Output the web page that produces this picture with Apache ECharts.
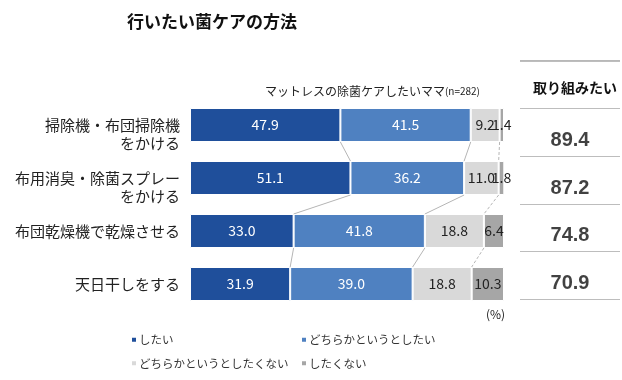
<!DOCTYPE html>
<html><head><meta charset="utf-8">
<script src="https://cdn.jsdelivr.net/npm/echarts@6/dist/echarts.min.js"></script>
<style>html,body{margin:0;padding:0;background:#fff}#c{width:622px;height:380px}</style>
</head><body><div id="c"></div>
<script>
const categories = ['掃除機・布団掃除機\nをかける', '布用消臭・除菌スプレー\nをかける', '布団乾燥機で乾燥させる', '天日干しをする'];
const seriesNames = ['したい', 'どちらかというとしたい', 'どちらかというとしたくない', 'したくない'];
const want = [47.9, 51.1, 33.0, 31.9];
const ratherWant = [41.5, 36.2, 41.8, 39.0];
const ratherNot = [9.2, 11.0, 18.8, 18.8];
const notWant = [1.4, 1.8, 6.4, 10.3];
const totals = [89.4, 87.2, 74.8, 70.9];
const colors = ['#1f4f9b', '#4f81c1', '#d9d9d9', '#a6a6a6'];
const values = [want, ratherWant, ratherNot, notWant];
const FONT = '"Noto Sans CJK JP", sans-serif';

const chart = echarts.init(document.getElementById('c'), null, {renderer: 'canvas'});

const barSeries = values.map((arr, si) => ({
  name: seriesNames[si], type: 'bar', stack: 'a', barWidth: 34,
  xAxisIndex: 0, yAxisIndex: 0,
  itemStyle: {color: colors[si], borderColor: '#fff', borderWidth: 1},
  label: {show: true, position: 'inside', color: si < 2 ? '#fff' : '#222', fontSize: 14, fontFamily: FONT,
    formatter: p => p.value.toFixed(1)},
  data: arr
}));

const connector = {
  type: 'custom', xAxisIndex: 0, yAxisIndex: 0, silent: true, z: 1,
  data: [0, 1, 2],
  renderItem: (params, api) => {
    const i = api.value(0);
    const half = 17;
    const children = [];
    let c1 = 0, c2 = 0;
    for (let k = 0; k < 3; k++) {
      c1 += values[k][i]; c2 += values[k][i + 1];
      const p1 = api.coord([c1, i]);
      const p2 = api.coord([c2, i + 1]);
      children.push({type: 'line', shape: {x1: p1[0], y1: p1[1] + half, x2: p2[0], y2: p2[1] - half},
        style: {stroke: '#b5b5b5', lineWidth: 1, lineDash: k === 2 ? [3, 2] : null}});
    }
    return {type: 'group', children};
  }
};

const totalSeries = {
  type: 'scatter', xAxisIndex: 1, yAxisIndex: 1, symbolSize: 0, silent: true,
  data: totals.map((v, i) => [0, i + 1, v]),
  label: {show: true, position: 'inside', offset: [0, 8], fontSize: 20, fontWeight: 'bold', color: '#111', fontFamily: 'Liberation Sans, Arial, sans-serif',
    formatter: p => p.value[2].toFixed(1)}
};

chart.setOption({
  animation: false,
  textStyle: {fontFamily: FONT},
  title: [
    {text: '行いたい菌ケアの方法', left: 122, top: 8, textStyle: {fontSize: 17, fontWeight: 'bold', color: '#111', fontFamily: FONT}},
    {text: '{a|マットレスの除菌ケアしたいママ}{b|(n=282)}', right: 137, top: 80,
      textStyle: {fontWeight: 'normal', rich: {a: {fontSize: 12, fontWeight: 'normal', color: '#222', fontFamily: FONT}, b: {fontSize: 10, fontWeight: 'normal', color: '#222', fontFamily: FONT}}}},
    {text: '取り組みたい', left: 570, textAlign: 'center', top: 76, textStyle: {fontSize: 14, fontWeight: 'bold', color: '#111', fontFamily: FONT}},
    {text: '(%)', left: 481, top: 303, textStyle: {fontSize: 12, fontWeight: 'normal', color: '#222', fontFamily: FONT}}
  ],
  grid: [
    {left: 190, right: 118, top: 98.5, bottom: 69.5},
    {left: 520, right: 2, top: 61, bottom: 81}
  ],
  xAxis: [
    {type: 'value', min: 0, max: 100, show: false, gridIndex: 0},
    {type: 'value', min: -1, max: 1, gridIndex: 1, show: false}
  ],
  yAxis: [
    {type: 'category', inverse: true, data: categories, gridIndex: 0,
      axisLine: {show: false}, axisTick: {show: false},
      axisLabel: {interval: 0, fontSize: 15, color: '#222', margin: 10, lineHeight: 18, fontFamily: FONT,
        formatter: v => v.indexOf('\n') >= 0 ? ' \n' + v : v}},
    {type: 'category', inverse: true, data: ['h', 'r1', 'r2', 'r3', 'r4'], gridIndex: 1,
      axisLine: {show: false}, axisTick: {show: false}, axisLabel: {show: false},
      splitLine: {show: true, interval: 0, lineStyle: {color: '#bdbdbd', width: 1}}}
  ],
  legend: [
    {data: [seriesNames[0], seriesNames[2]], orient: 'vertical', left: 125, top: 329, itemGap: 12,
      icon: 'rect', itemWidth: 6, itemHeight: 6, textStyle: {fontSize: 11.5, color: '#333', fontFamily: FONT, padding: [0,0,0,-3]}},
    {data: [seriesNames[1], seriesNames[3]], orient: 'vertical', left: 295, top: 329, itemGap: 12,
      icon: 'rect', itemWidth: 6, itemHeight: 6, textStyle: {fontSize: 11.5, color: '#333', fontFamily: FONT, padding: [0,0,0,-3]}}
  ],
  series: [...barSeries, connector, totalSeries]
});
chart.setOption({
  graphic: [
    {type: 'rect', id: 'topline', left: 520, top: 60, z: 100, shape: {x: 0, y: 0, width: 100, height: 1}, style: {fill: '#b8b8b8'}}
  ]
});
</script></body></html>
